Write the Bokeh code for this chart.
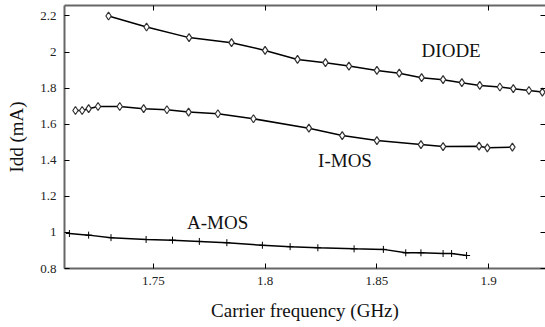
from bokeh.plotting import figure
from bokeh.models import LinearAxis, FixedTicker, Range1d, Label
from bokeh.embed import file_html
from bokeh.resources import INLINE

diode_x = [1.730, 1.747, 1.766, 1.785, 1.800, 1.8145, 1.827, 1.8375, 1.850, 1.860,
           1.870, 1.8796, 1.888, 1.896, 1.905, 1.911, 1.918, 1.924]
diode_y = [2.200, 2.139, 2.080, 2.052, 2.009, 1.959, 1.941, 1.922, 1.898, 1.883,
           1.858, 1.847, 1.830, 1.815, 1.806, 1.797, 1.787, 1.778]

imos_x = [1.7152, 1.7182, 1.7211, 1.7253, 1.735, 1.7457, 1.7561, 1.7658, 1.7789,
          1.7948, 1.8196, 1.8345, 1.850, 1.8697, 1.8796, 1.8957, 1.8994, 1.9106]
imos_y = [1.676, 1.676, 1.686, 1.698, 1.698, 1.686, 1.680, 1.667, 1.658,
          1.630, 1.578, 1.537, 1.509, 1.487, 1.476, 1.478, 1.469, 1.473]

amos_x = [1.7125, 1.7211, 1.7311, 1.7468, 1.7586, 1.7706, 1.7829, 1.7988, 1.8112,
          1.8236, 1.8398, 1.8529, 1.8629, 1.8697, 1.8796, 1.8834, 1.8901]
amos_y = [0.994, 0.985, 0.971, 0.961, 0.957, 0.950, 0.943, 0.929, 0.921,
          0.915, 0.909, 0.906, 0.887, 0.887, 0.883, 0.883, 0.872]

x_ticks = [1.75, 1.8, 1.85, 1.9]
x_tick_labels = ["1.75", "1.8", "1.85", "1.9"]
y_ticks = [0.8, 1.0, 1.2, 1.4, 1.6, 1.8, 2.0, 2.2]
y_tick_labels = ["0.8", "1", "1.2", "1.4", "1.6", "1.8", "2", "2.2"]

series_labels = ["DIODE", "I-MOS", "A-MOS"]
label_x = [1.870, 1.8237, 1.7651]
label_y = [2.009, 1.398, 1.056]

FONT = "Liberation Serif"
AXIS_COLOR = "#666666"

p = figure(width=545, height=327, output_backend="svg", toolbar_location=None,
           x_range=Range1d(1.7103, 1.9254), y_range=Range1d(0.8, 2.258),
           min_border_left=64, min_border_right=0, min_border_top=5, min_border_bottom=59)
p.xgrid.visible = False
p.ygrid.visible = False
p.outline_line_color = None
p.background_fill_color = "white"

def style(ax):
    ax.axis_line_color = AXIS_COLOR
    ax.axis_line_width = 2
    ax.major_tick_in = 5
    ax.major_tick_out = 0
    ax.minor_tick_line_color = None
    ax.major_tick_line_color = "black"
    ax.major_label_text_font = FONT
    ax.major_label_text_font_size = "13px"
    ax.major_label_text_color = "#222222"
    ax.axis_label_text_font = FONT
    ax.axis_label_text_font_size = "19px"
    ax.axis_label_text_font_style = "normal"
    ax.axis_label_text_color = "#111111"

xax = p.xaxis[0]
xax.ticker = FixedTicker(ticks=x_ticks)
xax.major_label_overrides = dict(zip(x_ticks, x_tick_labels))
style(xax)
xax.major_label_standoff = 8
xax.axis_label = "Carrier frequency (GHz)"
xax.axis_label_standoff = 12

yax = p.yaxis[0]
yax.ticker = FixedTicker(ticks=y_ticks)
yax.major_label_overrides = dict(zip(y_ticks, y_tick_labels))
style(yax)
yax.major_label_standoff = 8
yax.axis_label = "Idd (mA)"
yax.axis_label_standoff = 10

top = LinearAxis(ticker=FixedTicker(ticks=x_ticks))
style(top)
top.major_label_text_font_size = "1px"
top.major_label_text_color = None
top.major_label_standoff = 0
p.add_layout(top, "above")

right = LinearAxis(ticker=FixedTicker(ticks=y_ticks))
style(right)
right.axis_line_color = None
right.major_label_text_font_size = "1px"
right.major_label_text_color = None
right.major_label_standoff = 0
p.add_layout(right, "right")

p.line(diode_x, diode_y, line_color="black", line_width=1.5)
p.scatter(diode_x, diode_y, marker="diamond", size=8, fill_color="white",
          line_color="#333333", line_width=1.2)

p.line(imos_x, imos_y, line_color="black", line_width=1.5)
p.scatter(imos_x, imos_y, marker="diamond", size=8, fill_color="white",
          line_color="#333333", line_width=1.2)

p.line(amos_x, amos_y, line_color="black", line_width=1.5)
p.scatter(amos_x, amos_y, marker="cross", size=7, line_color="black", line_width=1)

for t, lx, ly in zip(series_labels, label_x, label_y):
    p.add_layout(Label(x=lx, y=ly, text=t, text_font=FONT, text_font_size="19px",
                       text_baseline="middle", text_align="left", text_color="#111111"))

open("out.html", "w").write(file_html(p, INLINE))
